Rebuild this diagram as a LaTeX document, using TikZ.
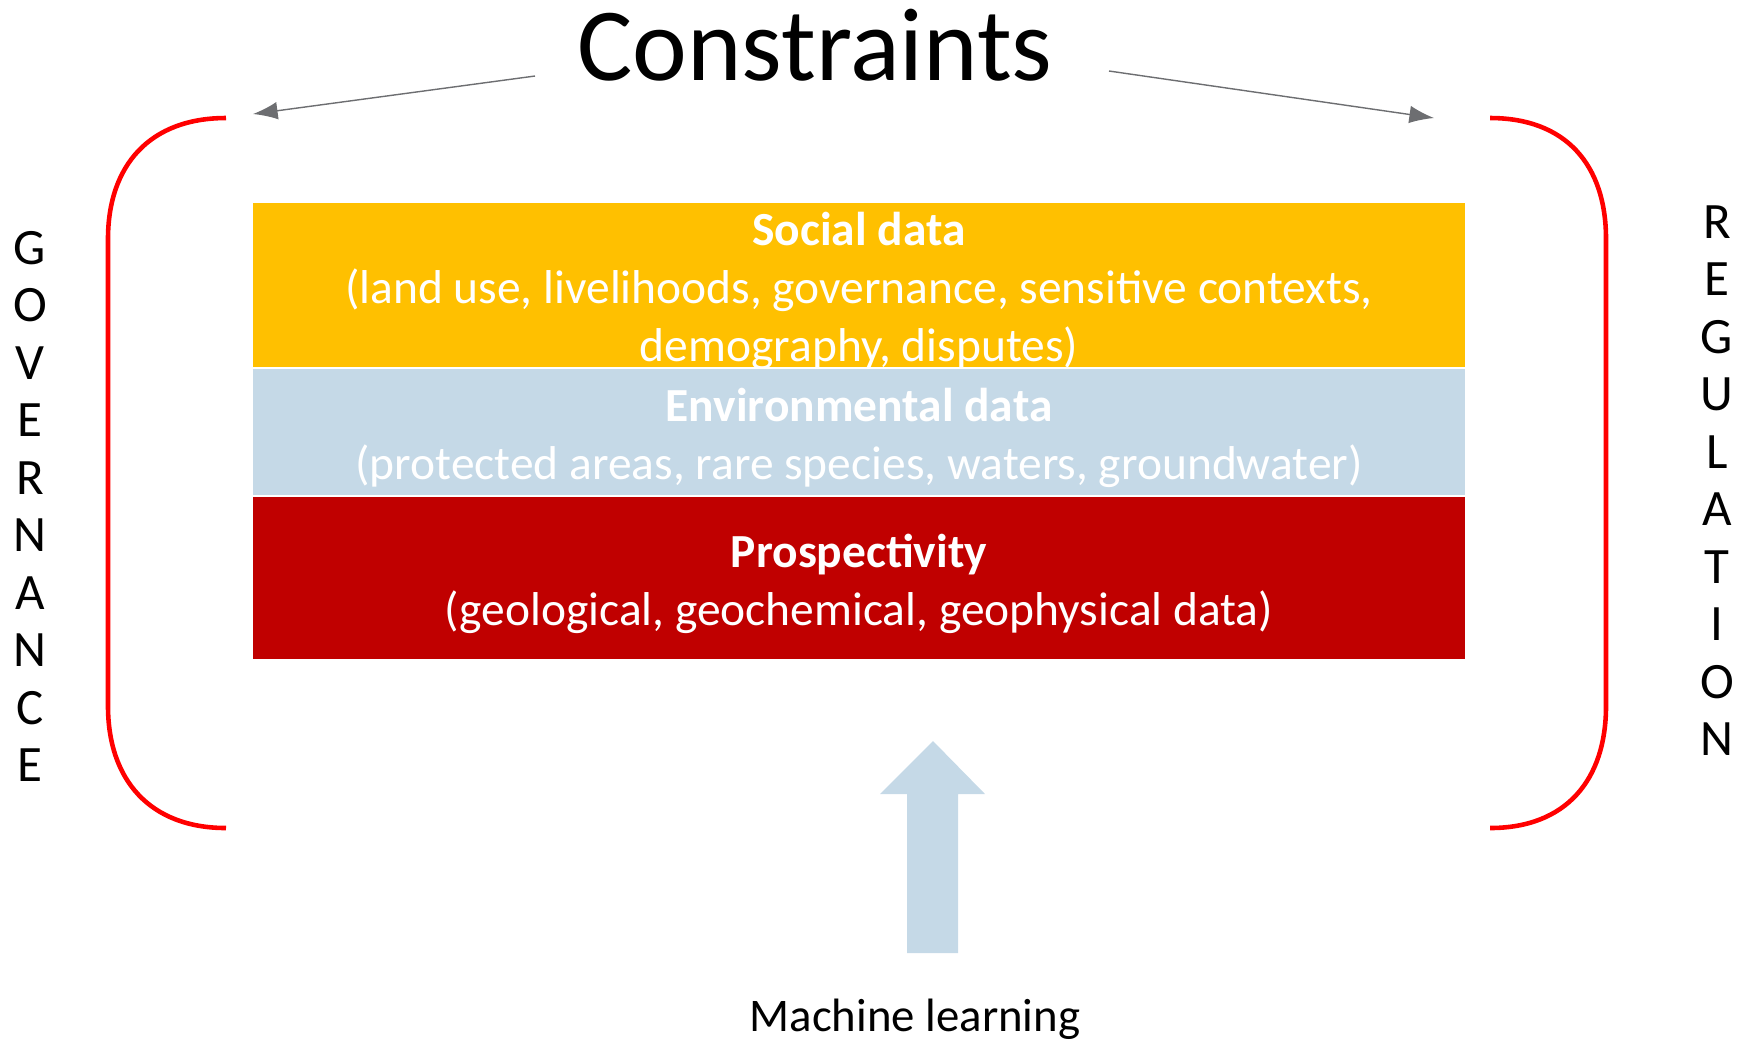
\documentclass[tikz,border=0pt]{standalone}
\usepackage{fontspec}
\setmainfont{Carlito}
\usetikzlibrary{arrows.meta}

\definecolor{socialyellow}{HTML}{FFC000}
\definecolor{envblue}{HTML}{C5D9E7}
\definecolor{prospred}{HTML}{C00000}
\definecolor{pointergrey}{HTML}{6D6E71}

\begin{document}
\begin{tikzpicture}[
  x=0.01cm, y=-0.01cm,
  layer/.style={rectangle, minimum width=12.12cm, inner sep=0pt,
    text=white, align=center, font=\fontsize{13.5}{16.5}\selectfont},
  spelled/.style={font=\fontsize{14.5}{16}\selectfont, inner sep=0pt},
  bracket/.style={draw=red, line width=1.3pt},
  pointer/.style={draw=pointergrey, line width=0.4pt, -{Latex[length=7pt,width=5pt]}}
]
\useasboundingbox (0,0) rectangle (1743,1041);

% title and the two pointers
\node (title) at (815,45) {\fontsize{29.5}{34}\selectfont Constraints};
\coordinate (lefttail) at (535,76);
\coordinate (righttail) at (1109,71);
\coordinate (lefttip) at (253,114);
\coordinate (righttip) at (1434,118);
\draw[pointer] (lefttail) -- (lefttip);
\draw[pointer] (righttail) -- (righttip);

% brackets
\draw[bracket] (226,118) .. controls (150,118) and (108,165) .. (108,239)
  -- (108,706) .. controls (108,780) and (150,828) .. (226,828);
\draw[bracket] (1490,118) .. controls (1566,118) and (1606,165) .. (1606,239)
  -- (1606,706) .. controls (1606,780) and (1566,828) .. (1490,828);

% data layers
\node[layer, fill=socialyellow, minimum height=1.64cm] (social) at (859,285) {};
\node[layer] (socialtext) at (859,291)
  {\textbf{Social data}\\(land use, livelihoods, governance, sensitive contexts,\\demography, disputes)};
\node[layer, fill=envblue, minimum height=1.26cm] (env) at (859,432) {};
\node[layer] (envtext) at (859,438)
  {\textbf{Environmental data}\\(protected areas, rare species, waters, groundwater)};
\node[layer, fill=prospred, minimum height=1.62cm] (prosp) at (859,578) {};
\node[layer] (prosptext) at (859,584)
  {\textbf{Prospectivity}\\(geological, geochemical, geophysical data)};

% side words
\foreach \l [count=\i] in {G,O,V,E,R,N,A,N,C,E}
  \node[spelled] (gov\i) at (30,{248+57.5*(\i-1)}) {\l};
\foreach \l [count=\i] in {R,E,G,U,L,A,T,I,O,N}
  \node[spelled] (reg\i) at (1717,{222+57.5*(\i-1)}) {\l};

% machine learning arrow
\fill[envblue] (907,953) -- (907,794) -- (880,794) -- (933,741)
  -- (985,794) -- (958,794) -- (958,953) -- cycle;
\node (ml) at (915,1019) {\fontsize{13.3}{16}\selectfont Machine learning};
\end{tikzpicture}
\end{document}
